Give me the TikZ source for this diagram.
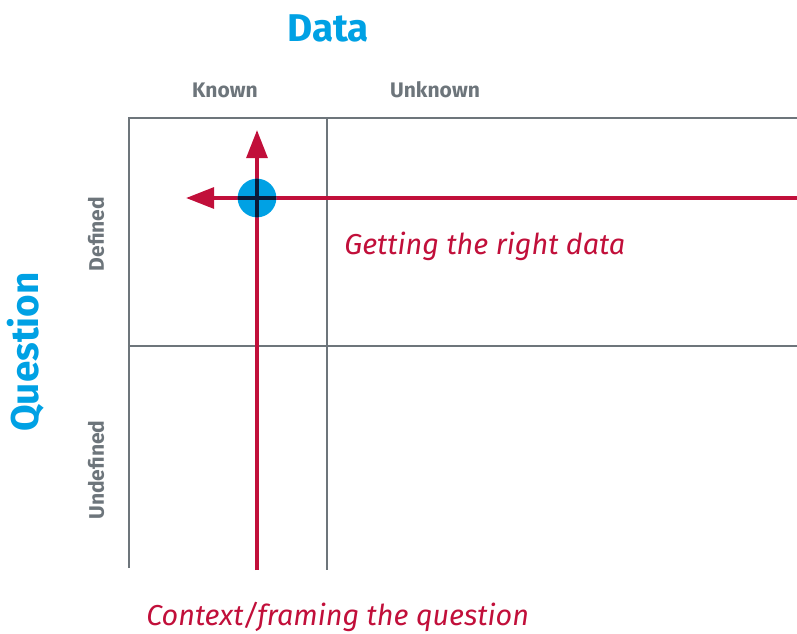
\documentclass[tikz,border=0pt]{standalone}
\usepackage{fontspec}
\setmainfont{Fira Sans}
\usetikzlibrary{arrows.meta}
\definecolor{qblue}{HTML}{00A1E4}
\definecolor{qred}{HTML}{C10F3A}
\definecolor{qgray}{HTML}{6D757B}
\definecolor{qnavy}{HTML}{0B1A38}
\begin{document}
\begin{tikzpicture}[x=0.75pt,y=-0.75pt,
  gridline/.style={draw=qgray,line width=1.6pt},
  redarrow/.style={draw=qred,line width=3pt,-{Triangle[length=21pt,width=15.5pt]}},
  axistitle/.style={text=qblue,font=\bfseries\fontsize{29}{34}\selectfont,inner sep=0pt},
  axislabel/.style={text=qgray,font=\bfseries\fontsize{15.8}{19}\selectfont,inner sep=0pt},
  redlabel/.style={text=qred,font=\itshape\fontsize{21.6}{26}\selectfont,inner sep=0pt}]
\useasboundingbox (0,0) rectangle (797,633);
% grid
\coordinate (tl) at (129,118);
\coordinate (tr) at (797,118);
\coordinate (bl) at (129,568);
\coordinate (mt) at (327,118);
\coordinate (mb) at (327,570);
\coordinate (ml) at (129,346);
\coordinate (mr) at (797,346);
\draw[gridline] (bl) -- (tl) -- (tr);
\draw[gridline] (mt) -- (mb);
\draw[gridline] (ml) -- (mr);
% labels
\node[axistitle] (data) at (328,28) {Data};
\node[axislabel] (known) at (225,90) {Known};
\node[axislabel] (unknown) at (435,90) {Unknown};
\node[axistitle,rotate=90] (question) at (26,352) {Question};
\node[axislabel,rotate=90] (defined) at (96,234) {Defined};
\node[axislabel,rotate=90] (undefined) at (96,470) {Undefined};
\node[redlabel,anchor=west] (getting) at (344,246) {Getting the right data};
\node[redlabel,anchor=west] (context) at (146,617) {Context/framing the question};
% arrows
\coordinate (vbot) at (257,570);
\coordinate (vtop) at (257,130);
\coordinate (hright) at (797,198);
\coordinate (hleft) at (186,198);
\draw[redarrow] (vbot) -- (vtop);
\draw[redarrow] (hright) -- (hleft);
% intersection marker
\node[circle,fill=qblue,minimum size=29pt,inner sep=0pt] (hub) at (257,198) {};
\begin{scope}
\clip (hub.center) circle (14.5pt);
\draw[qnavy,line width=3.4pt] (hub.north) -- (hub.south);
\draw[qnavy,line width=3.4pt] (hub.west) -- (hub.east);
\end{scope}
\end{tikzpicture}
\end{document}
